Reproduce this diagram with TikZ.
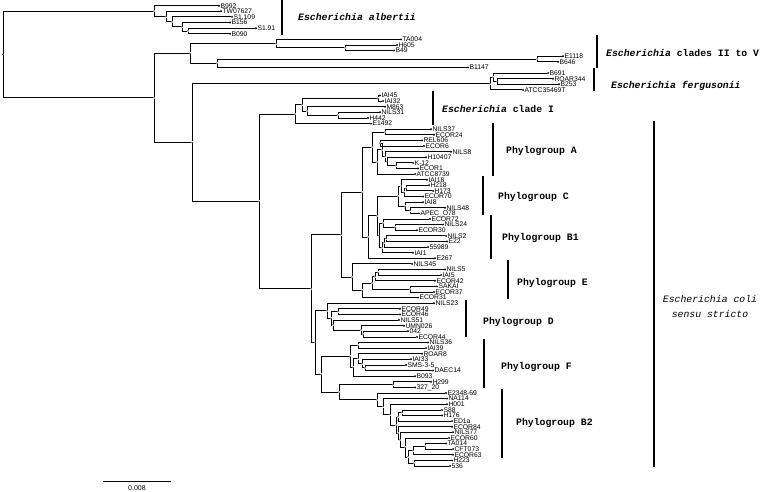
\documentclass[tikz,border=0pt]{standalone}
\usepackage{fontspec}
\setmainfont{Liberation Sans}
\newfontfamily\courfont{Liberation Mono}

\begin{document}
\begin{tikzpicture}[x=1pt,y=-1pt,
  every label/.style={font=\fontsize{6.8}{6.8}\selectfont,inner sep=0pt}]
\tikzstyle{tip} = [circle,fill=black,inner sep=0pt,minimum size=2.2pt,label distance=1.2pt]
\tikzstyle{inner} = [circle,fill=black,inner sep=0pt,minimum size=1.5pt]
\tikzstyle{edge} = [line width=0.8pt]
\tikzstyle{bar} = [line width=1.4pt]
\tikzstyle{group} = [font=\courfont\bfseries\fontsize{9.8}{10}\selectfont,anchor=west,inner sep=0pt]
\useasboundingbox (0,0) rectangle (764,492);
% leaves
\node[tip,label=right:B992] (B992) at (219,5.7) {};
\node[tip,label=right:TW07627] (TW07627) at (221,11.3) {};
\node[tip,label=right:S1.109] (S1109) at (232,16.9) {};
\node[tip,label=right:B156] (B156) at (230,22.5) {};
\node[tip,label=right:S1.91] (S191) at (256,28.2) {};
\node[tip,label=right:B090] (B090) at (230,33.8) {};
\node[tip,label=right:TA004] (TA004) at (401,39.4) {};
\node[tip,label=right:H605] (H605) at (397,45.0) {};
\node[tip,label=right:B49] (B49) at (394,50.6) {};
\node[tip,label=right:E1118] (E1118) at (563,56.2) {};
\node[tip,label=right:B646] (B646) at (558,61.8) {};
\node[tip,label=right:B1147] (B1147) at (468,67.4) {};
\node[tip,label=right:B691] (B691) at (548,73.1) {};
\node[tip,label=right:ROAR344] (ROAR344) at (553,78.7) {};
\node[tip,label=right:B253] (B253) at (559,84.3) {};
\node[tip,label=right:ATCC35469T] (ATCC35469T) at (523,89.9) {};
\node[tip,label=right:IAI45] (IAI45) at (380,95.5) {};
\node[tip,label=right:IAI32] (IAI32) at (383,101.1) {};
\node[tip,label=right:M863] (M863) at (385,106.7) {};
\node[tip,label=right:NILS31] (NILS31) at (380,112.3) {};
\node[tip,label=right:H442] (H442) at (368,118.0) {};
\node[tip,label=right:E1492] (E1492) at (371,123.6) {};
\node[tip,label=right:NILS37] (NILS37) at (431,129.2) {};
\node[tip,label=right:ECOR24] (ECOR24) at (434,134.8) {};
\node[tip,label=right:REL606] (REL606) at (422,140.4) {};
\node[tip,label=right:ECOR6] (ECOR6) at (424,146.0) {};
\node[tip,label=right:NILS8] (NILS8) at (451,151.7) {};
\node[tip,label=right:H10407] (H10407) at (426,157.3) {};
\node[tip,label=right:K-12] (K12) at (413,162.9) {};
\node[tip,label=right:ECOR1] (ECOR1) at (418,168.5) {};
\node[tip,label=right:ATCC8739] (ATCC8739) at (415,174.1) {};
\node[tip,label=right:IAI18] (IAI18) at (427,179.7) {};
\node[tip,label=right:H218] (H218) at (429,185.3) {};
\node[tip,label=right:H173] (H173) at (433,190.9) {};
\node[tip,label=right:ECOR70] (ECOR70) at (423,196.6) {};
\node[tip,label=right:IAI8] (IAI8) at (423,202.2) {};
\node[tip,label=right:NILS48] (NILS48) at (445,207.8) {};
\node[tip,label=right:APEC\_O78] (APECO78) at (419,213.4) {};
\node[tip,label=right:ECOR72] (ECOR72) at (430,219.0) {};
\node[tip,label=right:NILS24] (NILS24) at (443,224.6) {};
\node[tip,label=right:ECOR30] (ECOR30) at (417,230.2) {};
\node[tip,label=right:NILS2] (NILS2) at (446,235.9) {};
\node[tip,label=right:E22] (E22) at (447,241.5) {};
\node[tip,label=right:55989] (s55989) at (428,247.1) {};
\node[tip,label=right:IAI1] (IAI1) at (413,252.7) {};
\node[tip,label=right:E267] (E267) at (435,258.3) {};
\node[tip,label=right:NILS45] (NILS45) at (412,263.9) {};
\node[tip,label=right:NILS5] (NILS5) at (445,269.5) {};
\node[tip,label=right:IAI5] (IAI5) at (441,275.1) {};
\node[tip,label=right:ECOR42] (ECOR42) at (435,280.8) {};
\node[tip,label=right:SAKAI] (SAKAI) at (437,286.4) {};
\node[tip,label=right:ECOR37] (ECOR37) at (434,292.0) {};
\node[tip,label=right:ECOR31] (ECOR31) at (418,297.6) {};
\node[tip,label=right:NILS23] (NILS23) at (434,303.2) {};
\node[tip,label=right:ECOR49] (ECOR49) at (400,308.8) {};
\node[tip,label=right:ECOR46] (ECOR46) at (400,314.4) {};
\node[tip,label=right:NILS51] (NILS51) at (399,320.0) {};
\node[tip,label=right:UMN026] (UMN026) at (404,325.7) {};
\node[tip,label=right:042] (s042) at (408,331.3) {};
\node[tip,label=right:ECOR44] (ECOR44) at (417,336.9) {};
\node[tip,label=right:NILS36] (NILS36) at (428,342.5) {};
\node[tip,label=right:IAI39] (IAI39) at (426,348.1) {};
\node[tip,label=right:ROAR8] (ROAR8) at (422,353.7) {};
\node[tip,label=right:IAI33] (IAI33) at (411,359.3) {};
\node[tip,label=right:SMS-3-5] (SMS35) at (406,365.0) {};
\node[tip,label=right:DAEC14] (DAEC14) at (433,370.6) {};
\node[tip,label=right:B093] (B093) at (415,376.2) {};
\node[tip,label=right:H299] (H299) at (431,381.8) {};
\node[tip,label=right:327\_20] (s32720) at (415,387.4) {};
\node[tip,label=right:E2348-69] (E234869) at (446,393.0) {};
\node[tip,label=right:NA114] (NA114) at (447,398.6) {};
\node[tip,label=right:H001] (H001) at (447,404.2) {};
\node[tip,label=right:S88] (S88) at (442,409.9) {};
\node[tip,label=right:H176] (H176) at (442,415.5) {};
\node[tip,label=right:ED1a] (ED1a) at (452,421.1) {};
\node[tip,label=right:ECOR84] (ECOR84) at (452,426.7) {};
\node[tip,label=right:NILS77] (NILS77) at (453,432.3) {};
\node[tip,label=right:ECOR60] (ECOR60) at (449,437.9) {};
\node[tip,label=right:TA014] (TA014) at (446,443.5) {};
\node[tip,label=right:CFT073] (CFT073) at (453,449.1) {};
\node[tip,label=right:ECOR63] (ECOR63) at (453,454.8) {};
\node[tip,label=right:H223] (H223) at (452,460.4) {};
\node[tip,label=right:536] (s536) at (450,466.0) {};
% internal nodes
\node[inner] (root) at (3,54.5) {};
\node[inner] (a1) at (154,11.1) {};
\node[inner] (a2) at (166,16.6) {};
\node[inner] (a3) at (172,21.8) {};
\node[inner] (a4) at (182,26.75) {};
\node[inner] (a5) at (188,31) {};
\node[inner] (b) at (154,97.9) {};
\node[inner] (c) at (190,53.4) {};
\node[inner] (c1) at (276,43.6) {};
\node[inner] (c3) at (345,47.8) {};
\node[inner] (c2) at (217,63.2) {};
\node[inner] (c4) at (537,59) {};
\node[inner] (d) at (192,142.45) {};
\node[inner] (f1) at (490,83.6) {};
\node[inner] (f2) at (493,77.3) {};
\node[inner] (f3) at (497,81.5) {};
\node[inner] (e) at (259,201.3) {};
\node[inner] (cl1) at (295,114.1) {};
\node[inner] (i2) at (302,104.6) {};
\node[inner] (i1) at (378,98.3) {};
\node[inner] (i3) at (307,111) {};
\node[inner] (i4) at (338,115.2) {};
\node[inner] (ec) at (311,288.55) {};
\node[inner] (ec1) at (341,234.6) {};
\node[inner] (nACB1) at (362,192.05) {};
\node[inner] (nA) at (372,147) {};
\node[inner] (nA1) at (385,132) {};
\node[inner] (nA7) at (377,162) {};
\node[inner] (nA6) at (382,149.9) {};
\node[inner] (nA2) at (380,143.2) {};
\node[inner] (nA3) at (385,156.6) {};
\node[inner] (nA4) at (387,161.5) {};
\node[inner] (nA5) at (396,165.7) {};
\node[inner] (nCB1) at (368,237.1) {};
\node[inner] (nCx) at (377,215.85) {};
\node[inner] (nC) at (398,196.2) {};
\node[inner] (nC3) at (401,186) {};
\node[inner] (nC2) at (404,192.35) {};
\node[inner] (nC1) at (406,188.1) {};
\node[inner] (nC5) at (405,206.4) {};
\node[inner] (nC4) at (410,210.6) {};
\node[inner] (nB1) at (379,235.5) {};
\node[inner] (nB1b) at (383,223.2) {};
\node[inner] (nB1a) at (395,227.4) {};
\node[inner] (nB1e) at (382,247.8) {};
\node[inner] (nB1d) at (384,242.9) {};
\node[inner] (nB1c) at (386,238.7) {};
\node[inner] (nE) at (352,277.1) {};
\node[inner] (nE2) at (362,290.25) {};
\node[inner] (nE3) at (372,282.9) {};
\node[inner] (nE4) at (375,276.55) {};
\node[inner] (nE5) at (378,272.3) {};
\node[inner] (nSK) at (410,289.2) {};
\node[inner] (ec2) at (315,342.5) {};
\node[inner] (nD) at (327,310.75) {};
\node[inner] (nD2) at (331,318.3) {};
\node[inner] (nD4) at (338,311.6) {};
\node[inner] (nD3) at (333,324.95) {};
\node[inner] (nD5) at (361,329.9) {};
\node[inner] (nD6) at (363,334.1) {};
\node[inner] (nFB2) at (321,374.3) {};
\node[inner] (nF) at (350,356.35) {};
\node[inner] (nF1) at (358,345.3) {};
\node[inner] (nFb) at (353,367.4) {};
\node[inner] (nFc) at (358,358.6) {};
\node[inner] (nFd) at (362,363.55) {};
\node[inner] (nFe) at (365,367.8) {};
\node[inner] (nHB2) at (339,392.2) {};
\node[inner] (nH) at (393,384.6) {};
\node[inner] (nB2) at (377,399.8) {};
\node[inner] (nB2a) at (383,406.6) {};
\node[inner] (nB2b) at (390,414.65) {};
\node[inner] (nT7) at (396,425.1) {};
\node[inner] (nB2e) at (398,416.9) {};
\node[inner] (nB2s) at (402,412.7) {};
\node[inner] (nT6) at (398,433.3) {};
\node[inner] (nT5) at (400,439.85) {};
\node[inner] (nT4) at (405,447.4) {};
\node[inner] (nT3) at (408,456.9) {};
\node[inner] (nT2) at (413,450.55) {};
\node[inner] (nT) at (425,446.3) {};
\node[inner] (nH2) at (414,463.2) {};
% branches
\draw[edge] (root) |- (a1);
\draw[edge] (root) |- (b);
\draw[edge] (a1) |- (B992);
\draw[edge] (a1) |- (a2);
\draw[edge] (a2) |- (TW07627);
\draw[edge] (a2) |- (a3);
\draw[edge] (a3) |- (S1109);
\draw[edge] (a3) |- (a4);
\draw[edge] (a4) |- (B156);
\draw[edge] (a4) |- (a5);
\draw[edge] (a5) |- (S191);
\draw[edge] (a5) |- (B090);
\draw[edge] (b) |- (c);
\draw[edge] (b) |- (d);
\draw[edge] (c) |- (c1);
\draw[edge] (c) |- (c2);
\draw[edge] (c1) |- (TA004);
\draw[edge] (c1) |- (c3);
\draw[edge] (c3) |- (H605);
\draw[edge] (c3) |- (B49);
\draw[edge] (c2) |- (c4);
\draw[edge] (c2) |- (B1147);
\draw[edge] (c4) |- (E1118);
\draw[edge] (c4) |- (B646);
\draw[edge] (d) |- (f1);
\draw[edge] (d) |- (e);
\draw[edge] (f1) |- (f2);
\draw[edge] (f1) |- (ATCC35469T);
\draw[edge] (f2) |- (B691);
\draw[edge] (f2) |- (f3);
\draw[edge] (f3) |- (ROAR344);
\draw[edge] (f3) |- (B253);
\draw[edge] (e) |- (cl1);
\draw[edge] (e) |- (ec);
\draw[edge] (cl1) |- (i2);
\draw[edge] (cl1) |- (E1492);
\draw[edge] (i2) |- (i1);
\draw[edge] (i2) |- (i3);
\draw[edge] (i1) |- (IAI45);
\draw[edge] (i1) |- (IAI32);
\draw[edge] (i3) |- (M863);
\draw[edge] (i3) |- (i4);
\draw[edge] (i4) |- (NILS31);
\draw[edge] (i4) |- (H442);
\draw[edge] (ec) |- (ec1);
\draw[edge] (ec) |- (ec2);
\draw[edge] (ec1) |- (nACB1);
\draw[edge] (ec1) |- (nE);
\draw[edge] (nACB1) |- (nA);
\draw[edge] (nACB1) |- (nCB1);
\draw[edge] (nA) |- (nA1);
\draw[edge] (nA) |- (nA7);
\draw[edge] (nA1) |- (NILS37);
\draw[edge] (nA1) |- (ECOR24);
\draw[edge] (nA7) |- (nA6);
\draw[edge] (nA7) |- (ATCC8739);
\draw[edge] (nA6) |- (nA2);
\draw[edge] (nA6) |- (nA3);
\draw[edge] (nA2) |- (REL606);
\draw[edge] (nA2) |- (ECOR6);
\draw[edge] (nA3) |- (NILS8);
\draw[edge] (nA3) |- (nA4);
\draw[edge] (nA4) |- (H10407);
\draw[edge] (nA4) |- (nA5);
\draw[edge] (nA5) |- (K12);
\draw[edge] (nA5) |- (ECOR1);
\draw[edge] (nCB1) |- (nCx);
\draw[edge] (nCB1) |- (E267);
\draw[edge] (nCx) |- (nC);
\draw[edge] (nCx) |- (nB1);
\draw[edge] (nC) |- (nC3);
\draw[edge] (nC) |- (nC5);
\draw[edge] (nC3) |- (IAI18);
\draw[edge] (nC3) |- (nC2);
\draw[edge] (nC2) |- (nC1);
\draw[edge] (nC2) |- (ECOR70);
\draw[edge] (nC1) |- (H218);
\draw[edge] (nC1) |- (H173);
\draw[edge] (nC5) |- (IAI8);
\draw[edge] (nC5) |- (nC4);
\draw[edge] (nC4) |- (NILS48);
\draw[edge] (nC4) |- (APECO78);
\draw[edge] (nB1) |- (nB1b);
\draw[edge] (nB1) |- (nB1e);
\draw[edge] (nB1b) |- (ECOR72);
\draw[edge] (nB1b) |- (nB1a);
\draw[edge] (nB1a) |- (NILS24);
\draw[edge] (nB1a) |- (ECOR30);
\draw[edge] (nB1e) |- (nB1d);
\draw[edge] (nB1e) |- (IAI1);
\draw[edge] (nB1d) |- (nB1c);
\draw[edge] (nB1d) |- (s55989);
\draw[edge] (nB1c) |- (NILS2);
\draw[edge] (nB1c) |- (E22);
\draw[edge] (nE) |- (NILS45);
\draw[edge] (nE) |- (nE2);
\draw[edge] (nE2) |- (nE3);
\draw[edge] (nE2) |- (ECOR31);
\draw[edge] (nE3) |- (nE4);
\draw[edge] (nE3) |- (nSK);
\draw[edge] (nE4) |- (nE5);
\draw[edge] (nE4) |- (ECOR42);
\draw[edge] (nE5) |- (NILS5);
\draw[edge] (nE5) |- (IAI5);
\draw[edge] (nSK) |- (SAKAI);
\draw[edge] (nSK) |- (ECOR37);
\draw[edge] (ec2) |- (nD);
\draw[edge] (ec2) |- (nFB2);
\draw[edge] (nD) |- (NILS23);
\draw[edge] (nD) |- (nD2);
\draw[edge] (nD2) |- (nD4);
\draw[edge] (nD2) |- (nD3);
\draw[edge] (nD4) |- (ECOR49);
\draw[edge] (nD4) |- (ECOR46);
\draw[edge] (nD3) |- (NILS51);
\draw[edge] (nD3) |- (nD5);
\draw[edge] (nD5) |- (UMN026);
\draw[edge] (nD5) |- (nD6);
\draw[edge] (nD6) |- (s042);
\draw[edge] (nD6) |- (ECOR44);
\draw[edge] (nFB2) |- (nF);
\draw[edge] (nFB2) |- (nHB2);
\draw[edge] (nF) |- (nF1);
\draw[edge] (nF) |- (nFb);
\draw[edge] (nF1) |- (NILS36);
\draw[edge] (nF1) |- (IAI39);
\draw[edge] (nFb) |- (nFc);
\draw[edge] (nFb) |- (B093);
\draw[edge] (nFc) |- (ROAR8);
\draw[edge] (nFc) |- (nFd);
\draw[edge] (nFd) |- (IAI33);
\draw[edge] (nFd) |- (nFe);
\draw[edge] (nFe) |- (SMS35);
\draw[edge] (nFe) |- (DAEC14);
\draw[edge] (nHB2) |- (nH);
\draw[edge] (nHB2) |- (nB2);
\draw[edge] (nH) |- (H299);
\draw[edge] (nH) |- (s32720);
\draw[edge] (nB2) |- (E234869);
\draw[edge] (nB2) |- (nB2a);
\draw[edge] (nB2a) |- (NA114);
\draw[edge] (nB2a) |- (nB2b);
\draw[edge] (nB2b) |- (H001);
\draw[edge] (nB2b) |- (nT7);
\draw[edge] (nT7) |- (nB2e);
\draw[edge] (nT7) |- (nT6);
\draw[edge] (nB2e) |- (nB2s);
\draw[edge] (nB2e) |- (ED1a);
\draw[edge] (nB2s) |- (S88);
\draw[edge] (nB2s) |- (H176);
\draw[edge] (nT6) |- (ECOR84);
\draw[edge] (nT6) |- (nT5);
\draw[edge] (nT5) |- (NILS77);
\draw[edge] (nT5) |- (nT4);
\draw[edge] (nT4) |- (ECOR60);
\draw[edge] (nT4) |- (nT3);
\draw[edge] (nT3) |- (nT2);
\draw[edge] (nT3) |- (nH2);
\draw[edge] (nT2) |- (nT);
\draw[edge] (nT2) |- (ECOR63);
\draw[edge] (nT) |- (TA014);
\draw[edge] (nT) |- (CFT073);
\draw[edge] (nH2) |- (H223);
\draw[edge] (nH2) |- (s536);
% group bars and names
\draw[bar] (282,0) -- (282,35);
\draw[bar] (597,35) -- (597,68);
\draw[bar] (594,68) -- (594,91);
\draw[bar] (433,91) -- (433,125);
\draw[bar] (493,123) -- (493,176);
\draw[bar] (483,176) -- (483,215);
\draw[bar] (491,215) -- (491,259);
\draw[bar] (508,260) -- (508,299);
\draw[bar] (466,300) -- (466,337);
\draw[bar] (484,339) -- (484,388);
\draw[bar] (502,389) -- (502,458);
\draw[bar] (654,121) -- (654,467);
\node[group] (gAlb) at (298,17) {\textit{Escherichia albertii}};
\node[group] (gII) at (606,53) {\textit{Escherichia} clades II to V};
\node[group] (gFer) at (611,86) {\textit{Escherichia fergusonii}};
\node[group] (gI) at (442,109) {\textit{Escherichia} clade I};
\node[group] (gA) at (506,151) {Phylogroup A};
\node[group] (gC) at (498,197) {Phylogroup C};
\node[group] (gB1) at (502,238) {Phylogroup B1};
\node[group] (gE) at (517,283) {Phylogroup E};
\node[group] (gD) at (483,322) {Phylogroup D};
\node[group] (gF) at (501,367) {Phylogroup F};
\node[group] (gB2) at (516,423) {Phylogroup B2};
\node[font=\courfont\itshape\fontsize{9.8}{10}\selectfont,align=center,inner sep=0pt] (gColi) at (710,306.5) {Escherichia coli\\[4.5pt]sensu stricto};
% scale
\coordinate (sb1) at (103,481);
\coordinate (sb2) at (171,481);
\draw[edge] (sb1) -- (sb2);
\node[font=\fontsize{7}{7}\selectfont,inner sep=0pt] (sbl) at (137,488.5) {0.008};
\end{tikzpicture}
\end{document}
